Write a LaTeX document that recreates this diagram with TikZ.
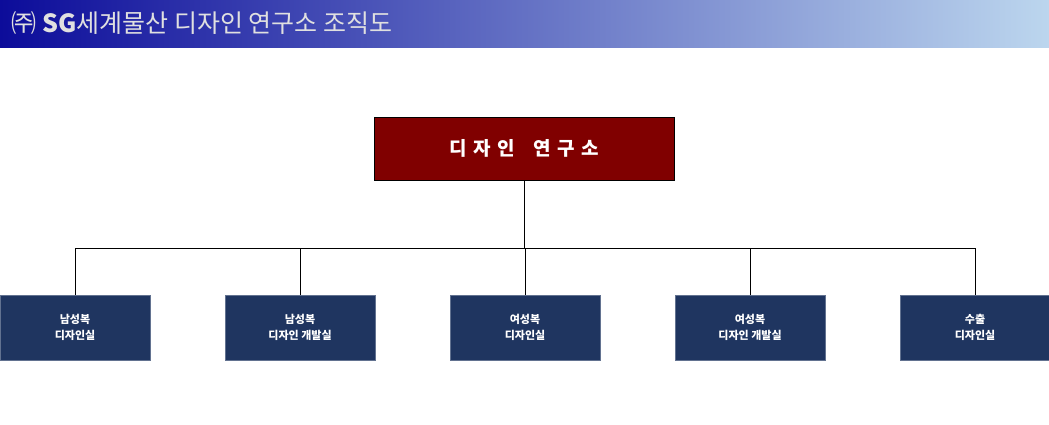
\documentclass[tikz,border=0pt]{standalone}
\usepackage{fontspec}
\setmainfont{Noto Sans CJK KR}
\usetikzlibrary{positioning}
\definecolor{headred}{HTML}{800000}
\definecolor{teamblue}{HTML}{1F3560}
\definecolor{bardark}{HTML}{0C0C9A}
\definecolor{barlight}{HTML}{BCD6EE}
\begin{document}
\begin{tikzpicture}[x=1pt,y=-1pt,
  headblock/.style={
    rectangle,
    draw=black,
    thick,
    fill=headred,
    text=white,
    font=\bfseries\fontsize{19}{22}\selectfont,
    minimum width=300pt,
    minimum height=63pt
  },
  teamblock/.style={
    rectangle,
    draw=teamblue!70!white,
    fill=teamblue,
    text=white,
    align=center,
    font=\bfseries\fontsize{11}{16}\selectfont,
    minimum width=150pt,
    minimum height=65pt
  }]
  \useasboundingbox (0,0) rectangle (1049,425);
  % title bar
  \shade[left color=bardark, right color=barlight] (0,0) rectangle (1049,48);
  \node[anchor=west, text=white!88!black, font=\fontsize{25}{28}\selectfont] (title)
    at (8,23) {㈜ \textbf{SG}세계물산 디자인 연구소 조직도};
  % org chart
  \node[headblock] (lab) at (524,148.5) {디\,\,자\,\,인\quad 연\,\,구\,\,소};
  \node[teamblock] (t1) at (75,327.5) {남성복\\디자인실};
  \node[teamblock] (t2) at (300,327.5) {남성복\\디자인 개발실};
  \node[teamblock] (t3) at (525,327.5) {여성복\\디자인실};
  \node[teamblock] (t4) at (750,327.5) {여성복\\디자인 개발실};
  \node[teamblock] (t5) at (975,327.5) {수출\\디자인실};
  \coordinate (bus) at (524,248);
  \draw (lab.south) -- (bus);
  \foreach \t in {t1,t2,t3,t4,t5}
    \draw (bus) -| (\t.north);
\end{tikzpicture}
\end{document}
